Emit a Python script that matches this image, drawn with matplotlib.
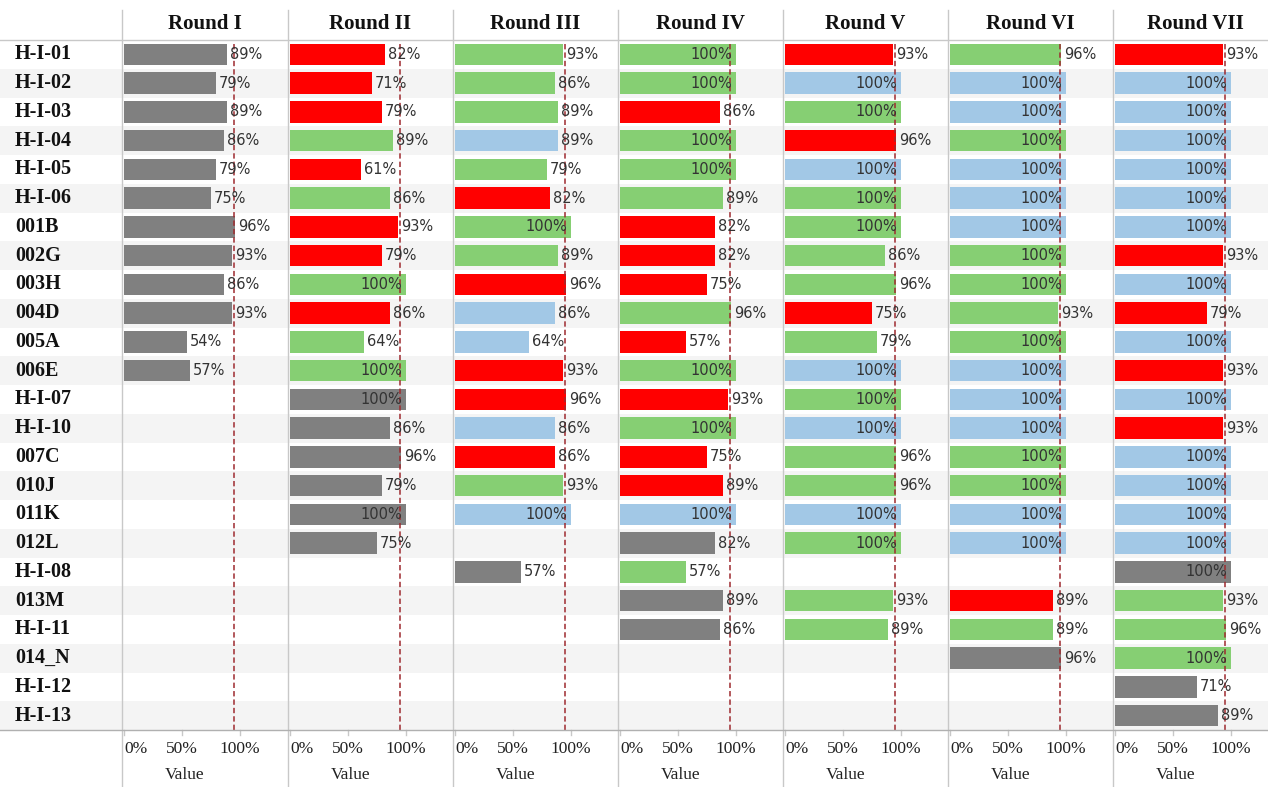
import matplotlib
matplotlib.use("Agg")
import matplotlib.pyplot as plt

rows = ["H-I-01", "H-I-02", "H-I-03", "H-I-04", "H-I-05", "H-I-06", "001B", "002G",
        "003H", "004D", "005A", "006E", "H-I-07", "H-I-10", "007C", "010J", "011K",
        "012L", "H-I-08", "013M", "H-I-11", "014_N", "H-I-12", "H-I-13"]
rounds = ["Round I", "Round II", "Round III", "Round IV", "Round V", "Round VI", "Round VII"]

# values in percent (None = no bar); colour category per bar: K gray, R red, G green, B blue
r1_vals = [89, 79, 89, 86, 79, 75, 96, 93, 86, 93, 54, 57]
r1_cols = "KKKKKKKKKKKK"
r2_vals = [82, 71, 79, 89, 61, 86, 93, 79, 100, 86, 64, 100, 100, 86, 96, 79, 100, 75]
r2_cols = "RRRGRGRRGRGGKKKKKK"
r3_vals = [93, 86, 89, 89, 79, 82, 100, 89, 96, 86, 64, 93, 96, 86, 86, 93, 100, None, 57]
r3_cols = "GGGBGRGGRBBRRBRGB-K"
r4_vals = [100, 100, 86, 100, 100, 89, 82, 82, 75, 96, 57, 100, 93, 100, 75, 89, 100, 82, 57, 89, 86]
r4_cols = "GGRGGGRRRGRGRGRRBKGKK"
r5_vals = [93, 100, 100, 96, 100, 100, 100, 86, 96, 75, 79, 100, 100, 100, 96, 96, 100, 100, None, 93, 89]
r5_cols = "RBGRBGGGGRGBGBGGBG-GG"
r6_vals = [96, 100, 100, 100, 100, 100, 100, 100, 100, 93, 100, 100, 100, 100, 100, 100, 100, 100, None, 89, 89, 96]
r6_cols = "GBBGBBBGGGGBBBGGBB-RGK"
r7_vals = [93, 100, 100, 100, 100, 100, 100, 93, 100, 79, 100, 93, 100, 93, 100, 100, 100, 100, 100, 93, 96, 100, 71, 89]
r7_cols = "RBBBBBBRBRBRBRBBBBKGGGKK"

all_vals = [r1_vals, r2_vals, r3_vals, r4_vals, r5_vals, r6_vals, r7_vals]
all_cols = [r1_cols, r2_cols, r3_cols, r4_cols, r5_cols, r6_cols, r7_cols]
target = 95
axis_ticks = [0, 50, 100]
tick_labels = ["0%", "50%", "100%"]

palette = {"K": "#808080", "R": "#ff0000", "G": "#86cf73", "B": "#a2c8e6"}

W, H = 1268, 787
fig = plt.figure(figsize=(W / 100, H / 100), dpi=100)
fig.patch.set_facecolor("white")

top_px, bot_px = 40, 730
n = len(rows)

def rect(x0, y0, x1, y1):
    return [x0 / W, (H - y1) / H, (x1 - x0) / W, (y1 - y0) / H]

serif = ["Liberation Serif", "DejaVu Serif"]

# background stripes across full width
bg = fig.add_axes(rect(0, top_px, W, bot_px))
bg.set_xlim(0, W)
bg.set_ylim(n - 0.5, -0.5)
bg.axis("off")
for i in range(n):
    if i % 2 == 1:
        bg.axhspan(i - 0.5, i + 0.5, color="#f4f4f4", lw=0, zorder=0)
for i, r in enumerate(rows):
    bg.text(15, i, r, ha="left", va="center", fontsize=14.5, fontweight="bold",
            family=serif, color="#111111")

# grid lines (figure-level)
line_ax = fig.add_axes([0, 0, 1, 1])
line_ax.set_xlim(0, W)
line_ax.set_ylim(H, 0)
line_ax.axis("off")
line_ax.set_zorder(5)
line_ax.patch.set_alpha(0)

lefts = [122, 288, 453, 618, 783, 948, 1113]
rights = lefts[1:] + [W]
px_per_unit = 116.0

for k, (L, R) in enumerate(zip(lefts, rights)):
    ax = fig.add_axes(rect(L, top_px, R, bot_px))
    ax.patch.set_alpha(0)
    x0 = L + 2
    ax.set_xlim((L - x0) / px_per_unit * 100, (R - x0) / px_per_unit * 100)
    ax.set_ylim(n - 0.5, -0.5)
    for s in ax.spines.values():
        s.set_visible(False)
    ax.set_yticks([])
    ax.set_xticks([])
    vals = all_vals[k]
    cols = all_cols[k]
    for i, v in enumerate(vals):
        if v is None:
            continue
        ax.barh(i, v, height=0.74, color=palette[cols[i]], lw=0, zorder=2)
        if v >= 100:
            ax.annotate(f"{v}%", (v, i), xytext=(-3, 0), textcoords="offset points",
                        ha="right", va="center", fontsize=10.5, color="#333333",
                        family="DejaVu Sans", zorder=4)
        else:
            ax.annotate(f"{v}%", (v, i), xytext=(2, 0), textcoords="offset points",
                        ha="left", va="center", fontsize=10.5, color="#333333",
                        family="DejaVu Sans", zorder=4)
    ax.axvline(target, color="#9e2a2f", lw=1.1, ls=(0, (3.5, 2)), zorder=3)

    # header
    cx = (L + R) / 2 if k < 6 else (2 * L + 165) / 2
    fig.text(cx / W, 1 - 24 / H, rounds[k],
             ha="center", va="center", fontsize=15, fontweight="bold", family=serif,
             color="#111111")
    # bottom ticks and labels
    for t, lab in zip(axis_ticks, tick_labels):
        xp = x0 + t / 100 * px_per_unit
        line_ax.plot([xp, xp], [bot_px, bot_px + 5], color="#c8c8c8", lw=1)
        if t == 0:
            line_ax.text(xp, 749, lab, ha="left", va="center", fontsize=12.5,
                         family=serif, color="#222222")
        else:
            line_ax.text(xp, 749, lab, ha="center", va="center", fontsize=12.5,
                         family=serif, color="#222222")
    line_ax.text(x0 + 0.5 * px_per_unit + 3, 775, "Value", ha="center", va="center",
                 fontsize=12.5, family=serif, color="#222222")

# separators
for L in lefts:
    line_ax.plot([L, L], [10, H], color="#c8c8c8", lw=1)
line_ax.plot([0, W], [top_px, top_px], color="#c8c8c8", lw=1)
line_ax.plot([0, W], [bot_px, bot_px], color="#b0b0b0", lw=1)

fig.savefig("out.png", dpi=100, facecolor="white")
